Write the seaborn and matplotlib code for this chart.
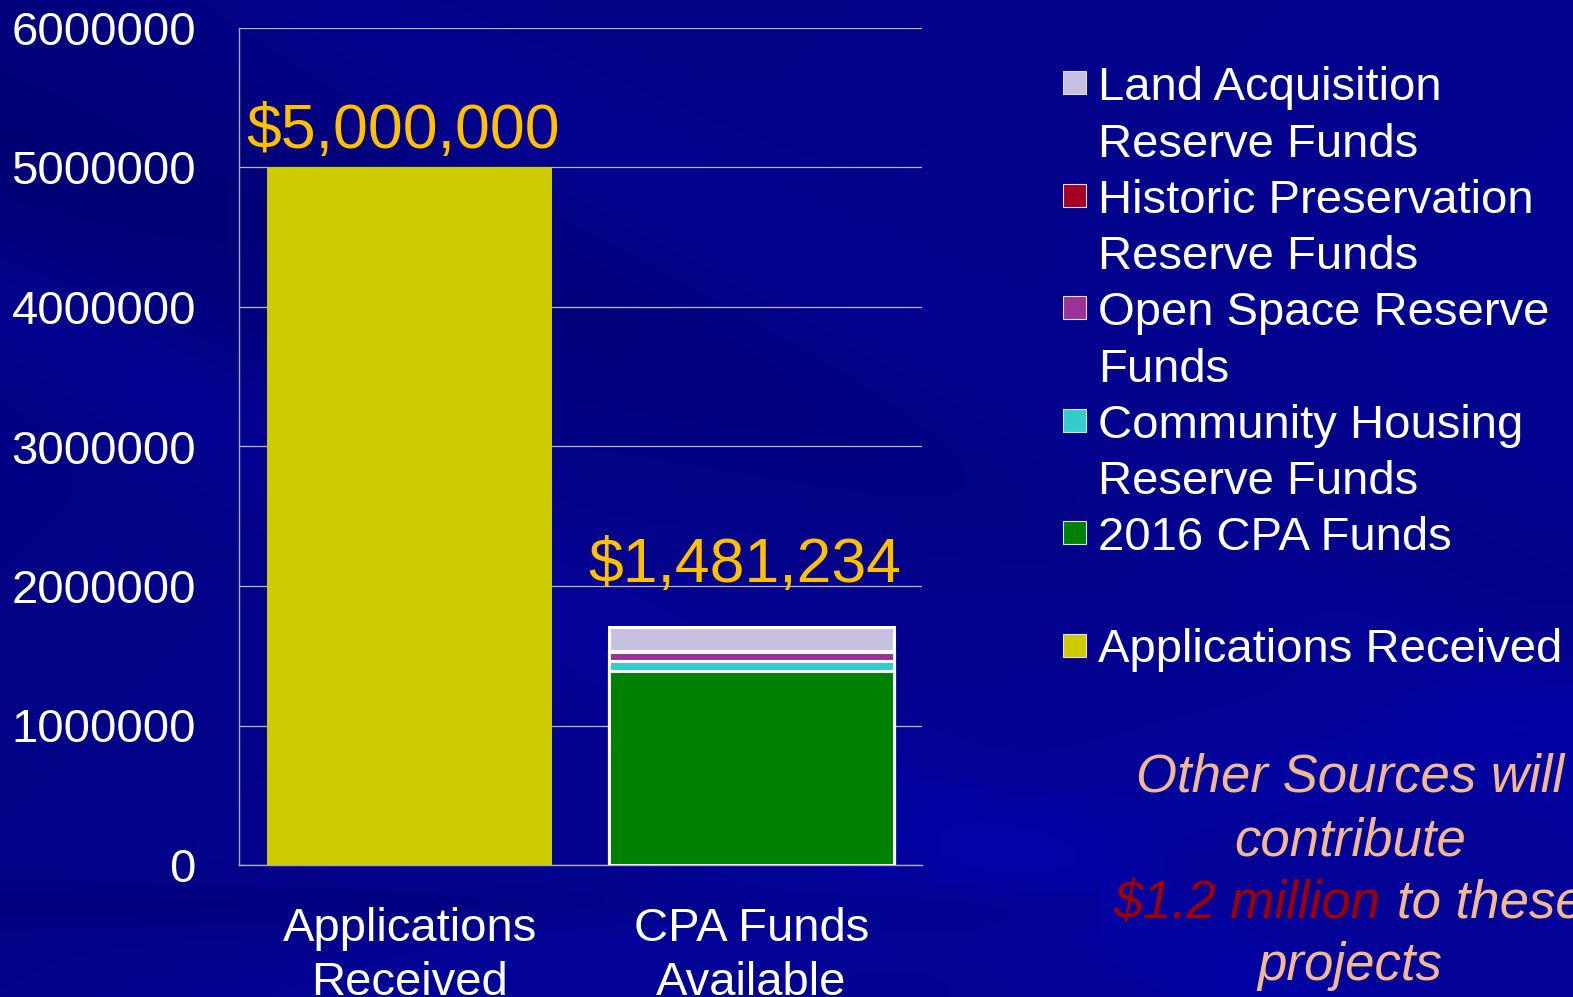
import numpy as np
import pandas as pd
import matplotlib
matplotlib.use("Agg")
import matplotlib.pyplot as plt
from matplotlib.patches import Rectangle
import seaborn as sns

# ---------------- data ----------------
categories = ["Applications\nReceived", "CPA Funds\nAvailable"]
applications_received = [5000000]
# stacked segments of "CPA Funds Available" (bottom -> top)
segment_names = ["2016 CPA Funds", "Community Housing\nReserve Funds",
                 "Open Space Reserve\nFunds", "Historic Preservation\nReserve Funds",
                 "Land Acquisition\nReserve Funds"]
segment_values = [1390000, 72000, 68000, 4000, 172000]
segment_colors = ["#008000", "#33CCCC", "#993399", "#A50021", "#C8C0E0"]
value_labels = ["$5,000,000", "$1,481,234"]
label_heights = [5140000, 2030000]
yticks = [0, 1000000, 2000000, 3000000, 4000000, 5000000, 6000000]
note_lines = ["Other Sources will", "contribute", "$1.2 million", "to these", "projects"]

W, H = 1573, 997
sns.set_theme(style="white")
plt.rcParams["font.family"] = ["Liberation Sans", "DejaVu Sans"]

fig = plt.figure(figsize=(W / 100, H / 100), dpi=100)

def fx(x):
    return x / W

def fy(y):
    return 1 - y / H

# ---------------- background ----------------
bg = fig.add_axes([0, 0, 1, 1], zorder=-10)
yy, xx = np.mgrid[0:H, 0:W]
base = 0.50 + 0.06 * (xx / W) + 0.04 * (yy / H)
streak = (0.04 * np.exp(-((xx * 0.6 - yy - 200) / 90.0) ** 2)
          + 0.05 * np.exp(-((xx * 0.55 - yy + 300) / 70.0) ** 2)
          + 0.04 * np.exp(-((xx * 0.25 + yy - 1100) / 60.0) ** 2)
          - 0.05 * np.exp(-((xx * 0.3 - yy + 150) / 120.0) ** 2)
          - 0.04 * np.exp(-((yy - 905) / 25.0) ** 2) * (xx < 1100))
b = np.clip(base + streak, 0, 1)
img = np.dstack([0.015 * b, 0.015 * b, b])
bg.imshow(img, aspect="auto", extent=[0, 1, 0, 1])
bg.set_axis_off()

# ---------------- main axes ----------------
ax = fig.add_axes([fx(239), fy(865), fx(922) - fx(239), fy(28) - fy(865)])
ax.set_facecolor("none")

sns.barplot(x=[categories[0]], y=applications_received, order=categories,
            color="#CCCC00", width=0.835, ax=ax, linewidth=0, saturation=1, zorder=3)

cum = np.cumsum(segment_values)
for i in range(len(segment_values) - 1, -1, -1):
    sns.barplot(x=[categories[1]], y=[cum[i]], order=categories,
                color=segment_colors[i], width=0.835, ax=ax, edgecolor="white",
                linewidth=2.2, saturation=1, zorder=3)

ax.set_xlim(-0.5, 1.5)
ax.set_ylim(0, 6000000)
ax.set_yticks(yticks)
ax.set_yticklabels([str(v) for v in yticks])
ax.yaxis.grid(True, color="#B8B8D0", linewidth=0.9, zorder=0)
ax.set_axisbelow(True)
for s in ["top", "right"]:
    ax.spines[s].set_visible(False)
for s in ["left", "bottom"]:
    ax.spines[s].set_color("#A8A8C0")
    ax.spines[s].set_linewidth(1.0)
ax.tick_params(axis="y", length=0, pad=31, labelsize=34, labelcolor="white")
ax.tick_params(axis="x", length=0, pad=30, labelsize=34, labelcolor="white")
for t in ax.get_xticklabels():
    t.set_linespacing(1.3)
ax.set_xlabel("")
ax.set_ylabel("")

for i, (lab, h) in enumerate(zip(value_labels, label_heights)):
    ax.text(i - 0.02, h, lab, ha="center", va="baseline", color="#FFC000",
            fontsize=45, zorder=5)

# ---------------- legend ----------------
legend_names = segment_names[::-1] + [None, "Applications Received"]
legend_colors = segment_colors[::-1] + [None, "#CCCC00"]
line_step = 56.2
baseline0 = 100.5
line = 0
for name, col in zip(legend_names, legend_colors):
    if name is None:
        line += 1
        continue
    base_y = baseline0 + line * line_step
    fig.patches.append(Rectangle((fx(1063), fy(base_y - 6)), fx(23), fy(0) - fy(23),
                                 transform=fig.transFigure, facecolor=col,
                                 edgecolor="#E0E0F0", linewidth=0.8))
    for k, part in enumerate(name.split("\n")):
        fig.text(fx(1098), fy(base_y + k * line_step), part, ha="left",
                 va="baseline", color="white", fontsize=34)
    line += len(name.split("\n"))

# ---------------- note ----------------
peach = "#F2B88E"
red = "#A00000"
fig.text(fx(1350), fy(792), note_lines[0], ha="center", va="baseline",
         color=peach, fontsize=38, style="italic")
fig.text(fx(1350), fy(855), note_lines[1], ha="center", va="baseline",
         color=peach, fontsize=38, style="italic")
fig.text(fx(1380), fy(918), note_lines[2], ha="right", va="baseline",
         color=red, fontsize=38, style="italic")
fig.text(fx(1397), fy(918), note_lines[3], ha="left", va="baseline",
         color=peach, fontsize=38, style="italic")
fig.text(fx(1350), fy(980), note_lines[4], ha="center", va="baseline",
         color=peach, fontsize=38, style="italic")

fig.savefig("out.png", dpi=100)
